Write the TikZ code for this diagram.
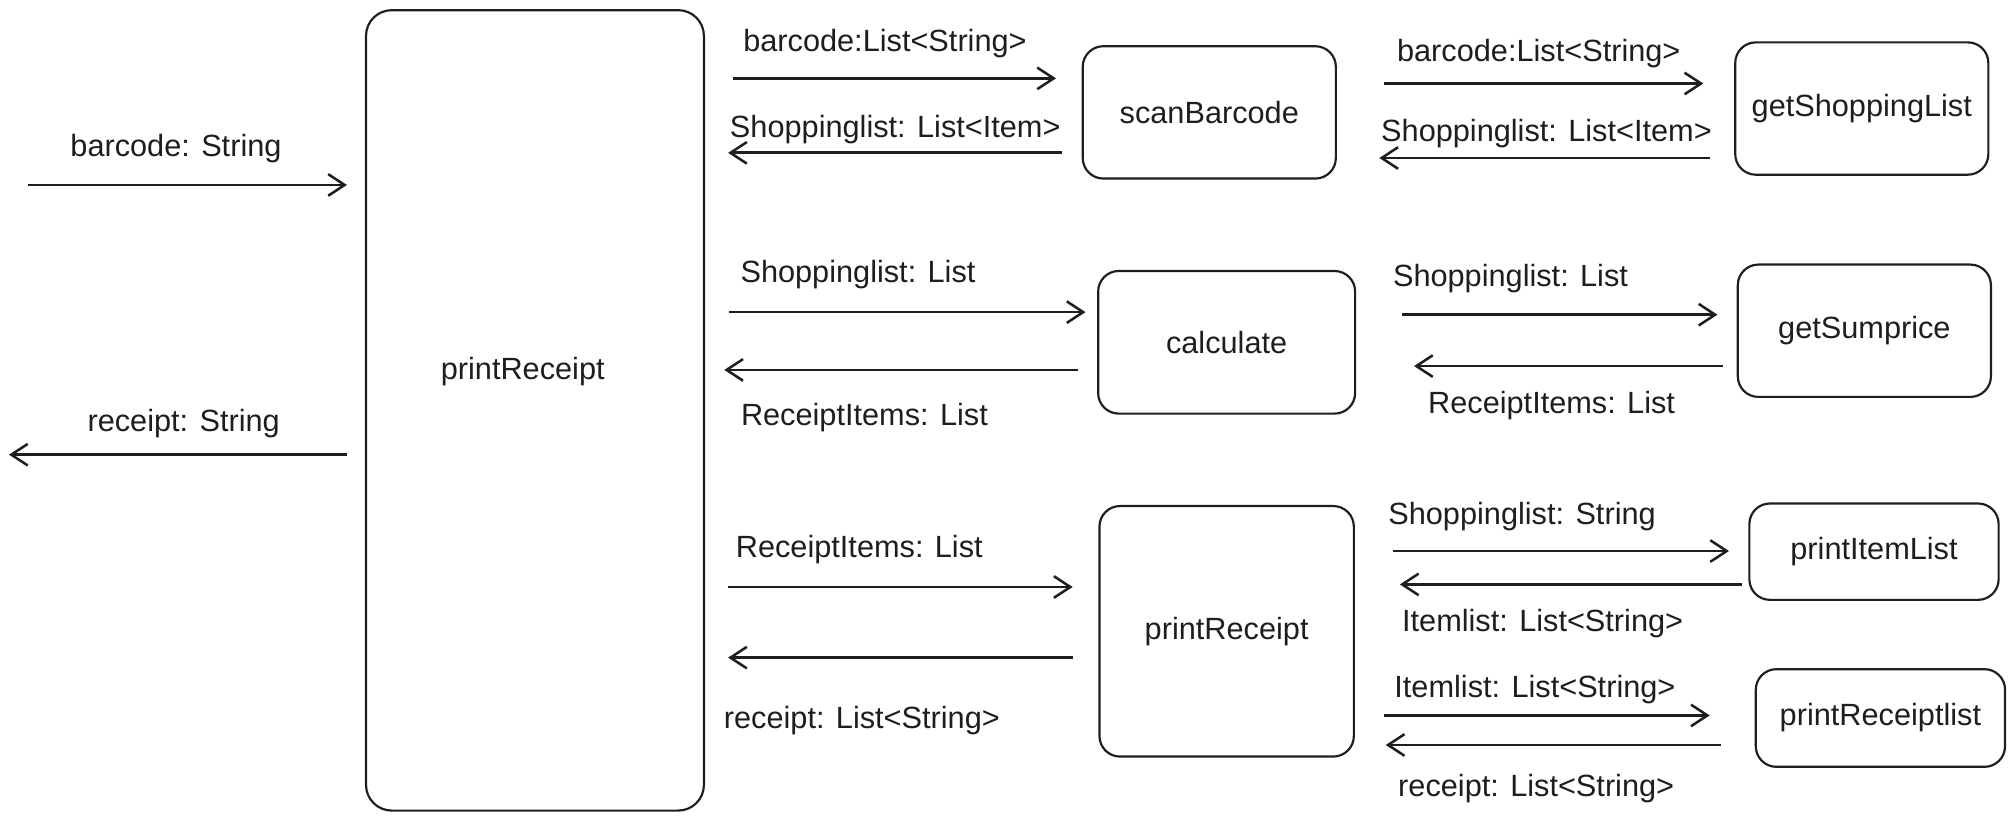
\documentclass[tikz,border=0pt]{standalone}
\usepackage{fontspec}
\setmainfont{Liberation Sans}
\usetikzlibrary{arrows.meta}
\definecolor{ink}{HTML}{1E1E1E}

\begin{document}
\begin{tikzpicture}[x=0.025cm,y=-0.025cm,
  every node/.style={font=\fontsize{17}{20}\selectfont,text=ink},
  lbl/.style={yshift=-0.07cm},
  fbox/.style={draw=ink,line width=1.2pt,rounded corners=0.4cm,inner sep=0pt},
  arr/.style={draw=ink,line width=1.5pt,-{Straight Barb[length=0.32cm,width=0.42cm,line width=1.4pt]}}]
\useasboundingbox (0,0) rectangle (1568,638);

% boxes
\node[fbox,minimum width=6.575cm,minimum height=15.575cm,rounded corners=0.5cm] (main) at (416.5,319.5) {};
\node (mainlbl) at (407,289) {printReceipt};
\node[fbox,minimum width=4.925cm,minimum height=2.575cm] (scan) at (941.5,87.5) {scanBarcode};
\node[fbox,minimum width=5cm,minimum height=2.775cm] (calc) at (955,266.5) {calculate};
\node[fbox,minimum width=4.95cm,minimum height=4.875cm] (prnt) at (955,491.5) {printReceipt};
\node[fbox,minimum width=4.925cm,minimum height=2.575cm] (getlist) at (1449.5,84.5) {getShoppingList};
\node[fbox,minimum width=4.925cm,minimum height=2.575cm] (getsum) at (1451.5,257.5) {getSumprice};
\node[fbox,minimum width=4.85cm,minimum height=1.875cm] (itemlist) at (1459,429.5) {printItemList};
\node[fbox,minimum width=4.85cm,minimum height=1.9cm] (rcptlist) at (1464,559) {printReceiptlist};

% outside
\coordinate (inL) at (22,144);
\coordinate (outL) at (7,354);
\draw[arr,shorten >=0.35cm] (inL) -- (main.west |- inL);
\draw[arr,shorten <=0.35cm] (main.west |- outL) -- (outL);
\node[lbl] (lbin) at (137,113) {barcode: String};
\node[lbl] (lbout) at (143,327) {receipt: String};

% main <-> middle
\draw[arr,shorten <=0.55cm,shorten >=0.5cm] (main.east |- 0,61) -- (scan.west |- 0,61);
\draw[arr,shorten <=0.375cm,shorten >=0.45cm] (scan.west |- 0,119) -- (main.east |- 0,119);
\draw[arr,shorten <=0.475cm,shorten >=0.225cm] (main.east |- 0,243) -- (calc.west |- 0,243);
\draw[arr,shorten <=0.375cm,shorten >=0.375cm] (calc.west |- 0,288) -- (main.east |- 0,288);
\draw[arr,shorten <=0.45cm,shorten >=0.5cm] (main.east |- 0,457) -- (prnt.west |- 0,457);
\draw[arr,shorten <=0.5cm,shorten >=0.45cm] (prnt.west |- 0,512) -- (main.east |- 0,512);
\node[lbl] (l1f) at (689,31) {barcode:List<String>};
\node[lbl] (l1b) at (697,98) {Shoppinglist: List<Item>};
\node[lbl] (l2f) at (668,211) {Shoppinglist: List};
\node[lbl] (l2b) at (673,322) {ReceiptItems: List};
\node[lbl] (l3f) at (669,425) {ReceiptItems: List};
\node[lbl] (l3b) at (671,558) {receipt: List<String>};

% middle <-> right
\draw[arr,shorten <=0.925cm,shorten >=0.6cm] (scan.east |- 0,65) -- (getlist.west |- 0,65);
\draw[arr,shorten <=0.475cm,shorten >=0.825cm] (getlist.west |- 0,123) -- (scan.east |- 0,123);
\draw[arr,shorten <=0.9cm,shorten >=0.375cm] (calc.east |- 0,245) -- (getsum.west |- 0,245);
\draw[arr,shorten <=0.275cm,shorten >=1.125cm] (getsum.west |- 0,285) -- (calc.east |- 0,285);
\draw[arr,shorten <=0.75cm,shorten >=0.375cm] (prnt.east |- 0,429) -- (itemlist.west |- 0,429);
\draw[arr,shorten <=0.125cm,shorten >=0.875cm] (itemlist.west |- 0,455) -- (prnt.east |- 0,455);
\draw[arr,shorten <=0.575cm,shorten >=0.875cm] (prnt.east |- 0,557) -- (rcptlist.west |- 0,557);
\draw[arr,shorten <=0.65cm,shorten >=0.6cm] (rcptlist.west |- 0,580) -- (prnt.east |- 0,580);
\node[lbl] (m1f) at (1198,39) {barcode:List<String>};
\node[lbl] (m1b) at (1204,101) {Shoppinglist: List<Item>};
\node[lbl] (m2f) at (1176,214) {Shoppinglist: List};
\node[lbl] (m2b) at (1208,313) {ReceiptItems: List};
\node[lbl] (m3f) at (1185,399) {Shoppinglist: String};
\node[lbl] (m3b) at (1201,483) {Itemlist: List<String>};
\node[lbl] (m4f) at (1195,534) {Itemlist: List<String>};
\node[lbl] (m4b) at (1196,611) {receipt: List<String>};
\end{tikzpicture}
\end{document}
